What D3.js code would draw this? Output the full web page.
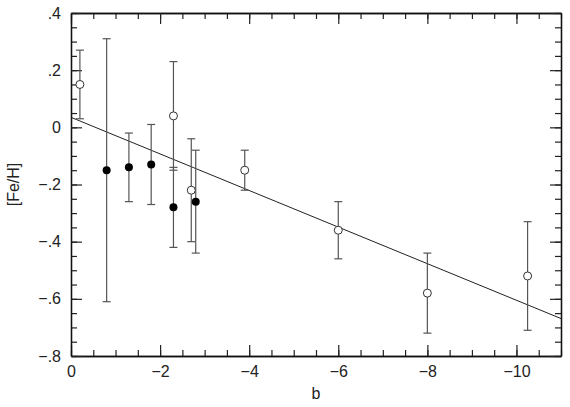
<!DOCTYPE html>
<html>
<head>
<meta charset="utf-8">
<script src="https://cdn.jsdelivr.net/npm/d3@7"></script>
<style>
  body { margin: 0; background: #fff; }
  svg { display: block; }
  .axis text { font-family: "Liberation Sans", Arial, sans-serif; font-size: 16px; fill: #222; }
  .axis path.domain { stroke: #111; stroke-width: 1.3; }
  .axis line { stroke: #222; stroke-width: 1.2; }
  .axis-label { font-family: "Liberation Sans", Arial, sans-serif; font-size: 16px; fill: #222; }
</style>
</head>
<body>
<div id="chartWrap"></div>
<script>
'use strict'

// Open circles: [b, Fe/H, error]
const openB = [-0.2, -2.3, -2.7, -3.9, -6.0, -8.0, -10.25];
const openFeH = [0.15, 0.04, -0.22, -0.15, -0.36, -0.58, -0.52];
const openErr = [0.12, 0.19, 0.18, 0.07, 0.10, 0.14, 0.19];

// Filled circles
const filledB = [-0.8, -1.3, -1.8, -2.3, -2.8];
const filledFeH = [-0.15, -0.14, -0.13, -0.28, -0.26];
const filledErr = [0.46, 0.12, 0.14, 0.14, 0.18];

// Linear fit [Fe/H] = a + s * b
const fitIntercept = 0.035;
const fitSlope = 0.064;

const xMajorTicks = [0, -2, -4, -6, -8, -10];
const yMajorTicks = [0.4, 0.2, 0, -0.2, -0.4, -0.6, -0.8];

//#region settings
let svgWidth = 570,
    svgHeight = 407,
    margin = { top: 13, right: 9, bottom: 51, left: 71 },
    chartWidth = svgWidth - margin.left - margin.right,
    chartHeight = svgHeight - margin.top - margin.bottom;

const barColor = '#555';
const capHalf = 4;
const radius = 4;
//#endregion settings

let svg = d3.select('#chartWrap')
    .append('svg')
    .attr('width', svgWidth)
    .attr('height', svgHeight);

let main = svg.append('g')
    .attr('transform', `translate(${margin.left},${margin.top})`);

const xScale = d3.scaleLinear().domain([0, -11]).range([0, chartWidth]);
const yScale = d3.scaleLinear().domain([-0.8, 0.4]).range([chartHeight, 0]);

const xMinor = d3.range(0, -11.001, -0.5);
const yMinor = d3.range(-0.8, 0.4001, 0.05).map(v => +v.toFixed(2));

const fmtX = d => d === 0 ? '0' : '\u2212' + Math.abs(d);
const fmtY = d => d === 0 ? '0' : (d < 0 ? '\u2212' : '') + Math.abs(d).toFixed(1).replace(/^0/, '');

//#region axes
// minor ticks on all sides
main.append('g').attr('class', 'axis')
    .attr('transform', `translate(0,${chartHeight})`)
    .call(d3.axisBottom(xScale).tickValues(xMinor).tickSize(-6).tickFormat('').tickSizeOuter(0));
main.append('g').attr('class', 'axis')
    .call(d3.axisTop(xScale).tickValues(xMinor).tickSize(-6).tickFormat('').tickSizeOuter(0));
main.append('g').attr('class', 'axis')
    .call(d3.axisLeft(yScale).tickValues(yMinor).tickSize(-6).tickFormat('').tickSizeOuter(0));
main.append('g').attr('class', 'axis')
    .attr('transform', `translate(${chartWidth},0)`)
    .call(d3.axisRight(yScale).tickValues(yMinor).tickSize(-6).tickFormat('').tickSizeOuter(0));

// major ticks with labels
main.append('g').attr('class', 'axis')
    .attr('transform', `translate(0,${chartHeight})`)
    .call(d3.axisBottom(xScale).tickValues(xMajorTicks).tickSize(-11).tickPadding(10).tickFormat(fmtX).tickSizeOuter(0));
main.append('g').attr('class', 'axis')
    .call(d3.axisTop(xScale).tickValues(xMajorTicks).tickSize(-11).tickFormat('').tickSizeOuter(0));
main.append('g').attr('class', 'axis')
    .call(d3.axisLeft(yScale).tickValues(yMajorTicks).tickSize(-11).tickPadding(10).tickFormat(fmtY).tickSizeOuter(0));
main.append('g').attr('class', 'axis')
    .attr('transform', `translate(${chartWidth},0)`)
    .call(d3.axisRight(yScale).tickValues(yMajorTicks).tickSize(-11).tickFormat('').tickSizeOuter(0));

// axis titles
svg.append('text')
    .attr('class', 'axis-label')
    .attr('text-anchor', 'middle')
    .attr('transform', `translate(19,${margin.top + yScale(-0.2)}) rotate(-90)`)
    .text('[Fe/H]');

svg.append('text')
    .attr('class', 'axis-label')
    .attr('text-anchor', 'middle')
    .attr('x', margin.left + xScale(-5.5))
    .attr('y', 399)
    .text('b');
//#endregion axes

//#region fit line
main.append('line')
    .attr('x1', xScale(0))
    .attr('y1', yScale(fitIntercept))
    .attr('x2', xScale(-11))
    .attr('y2', yScale(fitIntercept + fitSlope * -11))
    .attr('stroke', '#222')
    .attr('stroke-width', 1);
//#endregion fit line

//#region points
const openData = openB.map((b, i) => ({ b, v: openFeH[i], e: openErr[i] }));
const filledData = filledB.map((b, i) => ({ b, v: filledFeH[i], e: filledErr[i] }));

function errorBars(data) {
    let g = main.append('g')
        .attr('stroke', barColor)
        .attr('stroke-width', 1.2);
    g.selectAll('line.bar').data(data).join('line')
        .attr('class', 'bar')
        .attr('x1', d => xScale(d.b)).attr('x2', d => xScale(d.b))
        .attr('y1', d => yScale(d.v + d.e)).attr('y2', d => yScale(d.v - d.e));
    g.selectAll('line.top').data(data).join('line')
        .attr('class', 'top')
        .attr('x1', d => xScale(d.b) - capHalf).attr('x2', d => xScale(d.b) + capHalf)
        .attr('y1', d => yScale(d.v + d.e)).attr('y2', d => yScale(d.v + d.e));
    g.selectAll('line.bot').data(data).join('line')
        .attr('class', 'bot')
        .attr('x1', d => xScale(d.b) - capHalf).attr('x2', d => xScale(d.b) + capHalf)
        .attr('y1', d => yScale(d.v - d.e)).attr('y2', d => yScale(d.v - d.e));
}

errorBars(openData);
errorBars(filledData);

main.append('g').selectAll('circle')
    .data(openData).join('circle')
    .attr('cx', d => xScale(d.b))
    .attr('cy', d => yScale(d.v))
    .attr('r', radius)
    .attr('fill', '#fff')
    .attr('stroke', '#333')
    .attr('stroke-width', 1);

main.append('g').selectAll('circle')
    .data(filledData).join('circle')
    .attr('cx', d => xScale(d.b))
    .attr('cy', d => yScale(d.v))
    .attr('r', radius)
    .attr('fill', '#000');
//#endregion points
</script>
</body>
</html>
